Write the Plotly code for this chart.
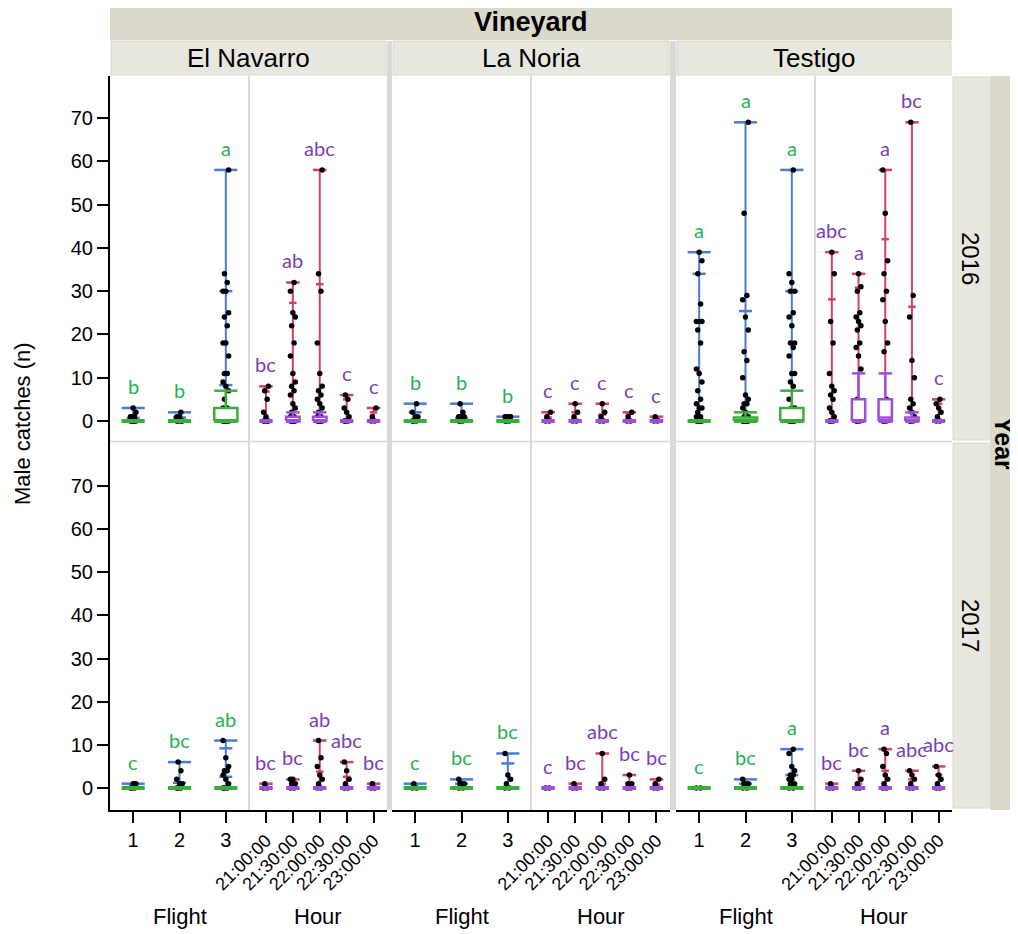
import plotly.graph_objects as go

# ---------------- categories / labels ----------------
vineyards = ["El Navarro", "La Noria", "Testigo"]
years = ["2016", "2017"]
flight_labels = ["1", "2", "3"]
hour_labels = ["21:00:00", "21:30:00", "22:00:00", "22:30:00", "23:00:00"]
y_ticks = [0, 10, 20, 30, 40, 50, 60, 70]

# each panel: points per category, max (whisker cap), extra tick marks,
# box stats [median, q3, upper whisker], significance letters

# ---- El Navarro 2016 ----
nav16_f_pts = [[0, 0, 0, 0, 0, 1, 1, 1, 2, 3], [0, 0, 0, 0, 1, 1, 2],
               [0, 0, 0, 0, 0, 0, 1, 1, 2, 2, 3, 3, 5, 7, 8, 9, 11, 11, 15, 18, 18, 22, 24, 25, 30, 30, 32, 34, 58]]
nav16_f_max = [3, 2, 58]
nav16_f_ticks = [[0.7], [0.8], [30, 8.3]]
nav16_f_box = [[0, 0, 0], [0, 0, 0], [0, 3, 7]]
nav16_f_let = ["b", "b", "a"]

nav16_h_pts = [[0, 0, 0, 0, 1, 2, 5, 7, 8],
               [0, 0, 0, 0, 0, 1, 1, 2, 3, 4, 6, 7, 8, 9, 11, 15, 18, 22, 24, 25, 30, 32],
               [0, 0, 0, 0, 0, 1, 1, 2, 3, 4, 5, 6, 7, 8, 11, 18, 30, 34, 58],
               [0, 0, 0, 1, 2, 3, 5, 6], [0, 0, 1, 3]]
nav16_h_max = [8, 32, 58, 6, 3]
nav16_h_ticks = [[6.8], [27.3], [31.6], [5], [2]]
nav16_h_box = [[0, 0, 0], [0, 1, 2], [0, 1, 2], [0, 0, 0], [0, 0, 0]]
nav16_h_let = ["bc", "ab", "abc", "c", "c"]

# ---- La Noria 2016 ----
nor16_f_pts = [[0, 0, 0, 1, 1, 2, 4], [0, 0, 0, 1, 1, 1, 2, 4], [0, 0, 0, 1, 1, 1, 1]]
nor16_f_max = [4, 4, 1]
nor16_f_ticks = [[2], [0.7], []]
nor16_f_box = [[0, 0, 0], [0, 0, 0], [0, 0, 0]]
nor16_f_let = ["b", "b", "b"]

nor16_h_pts = [[0, 0, 1, 2], [0, 0, 1, 2, 4], [0, 0, 1, 2, 4], [0, 0, 1, 2], [0, 0, 1]]
nor16_h_max = [2, 4, 4, 2, 1]
nor16_h_ticks = [[0.8], [2], [1.5], [1.7], [0.6]]
nor16_h_box = [[0, 0, 0]] * 5
nor16_h_let = ["c", "c", "c", "c", "c"]

# ---- Testigo 2016 ----
tes16_f_pts = [[0, 0, 0, 0, 0, 1, 1, 2, 3, 3, 4, 5, 7, 9, 11, 12, 18, 21, 23, 23, 23, 27, 34, 37, 39],
               [0, 0, 0, 0, 0, 0, 0, 1, 1, 2, 3, 4, 4, 5, 6, 10, 14, 16, 21, 24, 28, 29, 48, 69],
               [0, 0, 0, 0, 0, 1, 1, 2, 3, 3, 5, 8, 9, 11, 11, 15, 17, 18, 18, 22, 24, 25, 30, 30, 32, 34, 58]]
tes16_f_max = [39, 69, 58]
tes16_f_ticks = [[34], [25.4], [30]]
tes16_f_box = [[0, 0, 0], [0, 0.8, 2], [0, 3, 7]]
tes16_f_let = ["a", "a", "a"]

tes16_h_pts = [[0, 0, 0, 1, 2, 3, 5, 6, 7, 8, 11, 18, 23, 34, 39],
               [0, 0, 0, 1, 2, 3, 4, 5, 12, 15, 17, 18, 21, 22, 23, 24, 25, 30, 31, 34],
               [0, 0, 0, 1, 2, 3, 5, 16, 18, 23, 28, 30, 34, 37, 48, 58],
               [0, 0, 0, 1, 2, 3, 4, 5, 10, 14, 24, 29, 69],
               [0, 0, 1, 2, 3, 4, 5]]
tes16_h_max = [39, 34, 58, 69, 5]
tes16_h_ticks = [[28.1], [30.8], [42], [26.4], [4]]
tes16_h_box = [[0, 0, 0], [0, 5, 11], [0.8, 5, 11], [0, 0.8, 2], [0, 0, 0]]
tes16_h_let = ["abc", "a", "a", "bc", "c"]

# ---- El Navarro 2017 ----
nav17_f_pts = [[0, 0, 0, 1, 1], [0, 0, 0, 1, 1, 2, 4, 6], [0, 0, 0, 1, 2, 3, 4, 4, 5, 7, 11]]
nav17_f_max = [1, 6, 11]
nav17_f_ticks = [[], [1.2], [9.2, 2.6]]
nav17_f_box = [[0, 0, 0]] * 3
nav17_f_let = ["c", "bc", "ab"]

nav17_h_pts = [[0, 0, 1], [0, 0, 1, 1, 2, 2], [0, 0, 1, 2, 3, 5, 7, 11], [0, 0, 1, 2, 4, 6], [0, 0, 1]]
nav17_h_max = [1, 2, 11, 6, 1]
nav17_h_ticks = [[], [1], [3.8], [2.6], []]
nav17_h_box = [[0, 0, 0]] * 5
nav17_h_let = ["bc", "bc", "ab", "abc", "bc"]

# ---- La Noria 2017 ----
nor17_f_pts = [[0, 0, 1], [0, 0, 1, 1, 1, 2], [0, 0, 1, 2, 3, 8]]
nor17_f_max = [1, 2, 8]
nor17_f_ticks = [[], [1], [5.7]]
nor17_f_box = [[0, 0, 0]] * 3
nor17_f_let = ["c", "bc", "bc"]

nor17_h_pts = [[0, 0], [0, 0, 1], [0, 0, 1, 2, 8], [0, 0, 1, 1, 3], [0, 0, 1, 2]]
nor17_h_max = [0, 1, 8, 3, 2]
nor17_h_ticks = [[], [], [1], [1], [0.8]]
nor17_h_box = [[0, 0, 0]] * 5
nor17_h_let = ["c", "bc", "abc", "bc", "bc"]

# ---- Testigo 2017 ----
tes17_f_pts = [[0, 0], [0, 0, 1, 1, 1, 2], [0, 0, 1, 1, 2, 2, 3, 3, 4, 5, 8, 9]]
tes17_f_max = [0, 2, 9]
tes17_f_ticks = [[], [1], [3]]
tes17_f_box = [[0, 0, 0]] * 3
tes17_f_let = ["c", "bc", "a"]

tes17_h_pts = [[0, 0, 1], [0, 0, 1, 2, 4], [0, 0, 1, 2, 3, 5, 8, 9], [0, 0, 1, 2, 3, 4], [0, 0, 1, 2, 3, 5]]
tes17_h_max = [1, 4, 9, 4, 5]
tes17_h_ticks = [[], [1], [4], [2], [3]]
tes17_h_box = [[0, 0, 0]] * 5
tes17_h_let = ["bc", "bc", "a", "abc", "abc"]

panels = {
    (0, 0, 0): (nav16_f_pts, nav16_f_max, nav16_f_ticks, nav16_f_box, nav16_f_let),
    (0, 0, 1): (nav16_h_pts, nav16_h_max, nav16_h_ticks, nav16_h_box, nav16_h_let),
    (0, 1, 0): (nor16_f_pts, nor16_f_max, nor16_f_ticks, nor16_f_box, nor16_f_let),
    (0, 1, 1): (nor16_h_pts, nor16_h_max, nor16_h_ticks, nor16_h_box, nor16_h_let),
    (0, 2, 0): (tes16_f_pts, tes16_f_max, tes16_f_ticks, tes16_f_box, tes16_f_let),
    (0, 2, 1): (tes16_h_pts, tes16_h_max, tes16_h_ticks, tes16_h_box, tes16_h_let),
    (1, 0, 0): (nav17_f_pts, nav17_f_max, nav17_f_ticks, nav17_f_box, nav17_f_let),
    (1, 0, 1): (nav17_h_pts, nav17_h_max, nav17_h_ticks, nav17_h_box, nav17_h_let),
    (1, 1, 0): (nor17_f_pts, nor17_f_max, nor17_f_ticks, nor17_f_box, nor17_f_let),
    (1, 1, 1): (nor17_h_pts, nor17_h_max, nor17_h_ticks, nor17_h_box, nor17_h_let),
    (1, 2, 0): (tes17_f_pts, tes17_f_max, tes17_f_ticks, tes17_f_box, tes17_f_let),
    (1, 2, 1): (tes17_h_pts, tes17_h_max, tes17_h_ticks, tes17_h_box, tes17_h_let),
}

# ---------------- layout geometry (page pixels) ----------------
OFF = 8                      # default page margin of the html body
W, H = 1018 - OFF, 934 - OFF
L, R, T, B = 110, 952, 76, 810
PW, PH = R - L, B - T
sec_edges = [(110, 249), (249, 387), (392, 531), (531, 670), (676, 815), (815, 952)]
vin_edges = [(110, 387), (392, 670), (676, 952)]
row_edges = [(76, 441), (441, 810)]
y_ranges = [[-4.62, 79.70], [-5.10, 80.43]]


def px(xp):
    return (xp - L) / PW


def py(yp):
    return (B - yp) / PH


GREEN_BOX = "#3aae3a"
BLUE = "#4a7bdb"
RED = "#d7405e"
PURPLE_BOX = "#9d4fd9"
GREEN_TXT = "#1fb255"
PURPLE_TXT = "#7b3db8"
FONT = "Liberation Sans, Arial, sans-serif"

fig = go.Figure()
layout_axes = {}
annotations = []

BOX_HW = 0.25
TICK_HW = 0.14


def add_segs(segs, xa, ya, color, width):
    xs, ys = [], []
    for (x0, y0, x1, y1) in segs:
        xs += [x0, x1, None]
        ys += [y0, y1, None]
    if xs:
        fig.add_trace(go.Scatter(x=xs, y=ys, mode="lines", xaxis=xa, yaxis=ya,
                                 line=dict(color=color, width=width), hoverinfo="skip",
                                 showlegend=False))


for (r, v, s), (pts, mx, tks, box, lets) in panels.items():
    k = r * 6 + v * 2 + s + 1
    xa = "x" if k == 1 else f"x{k}"
    ya = "y" if k == 1 else f"y{k}"
    wcol = BLUE if s == 0 else RED
    bcol = GREEN_BOX if s == 0 else PURPLE_BOX
    tcol = GREEN_TXT if s == 0 else PURPLE_TXT
    cats = flight_labels if s == 0 else hour_labels
    n = len(cats)
    jit = 0.03 if s == 0 else 0.045

    # whiskers (min-max line with caps and tick marks)
    vsegs, csegs = [], []
    for i in range(n):
        c = i + 1
        if mx[i] > 0:
            vsegs.append((c, 0, c, mx[i]))
            csegs.append((c - BOX_HW, mx[i], c + BOX_HW, mx[i]))
            for t in tks[i]:
                csegs.append((c - TICK_HW, t, c + TICK_HW, t))
    add_segs(vsegs, xa, ya, wcol, 2)
    add_segs(csegs, xa, ya, wcol, 2.5)

    # points with deterministic small jitter
    px_list, py_list = [], []
    for i in range(n):
        c = i + 1
        for j, val in enumerate(pts[i]):
            off = ((j * 3) % 5 - 2) * jit
            px_list.append(c + off)
            py_list.append(val)
    fig.add_trace(go.Scatter(x=px_list, y=py_list, mode="markers", xaxis=xa, yaxis=ya,
                             marker=dict(color="black", size=5.5), hoverinfo="skip",
                             showlegend=False))

    # boxes
    flat = []
    for i in range(n):
        c = i + 1
        med, q3, up = box[i]
        if q3 > 0:
            fig.add_trace(go.Scatter(
                x=[c - BOX_HW, c + BOX_HW, c + BOX_HW, c - BOX_HW, c - BOX_HW],
                y=[0, 0, q3, q3, 0], mode="lines", fill="toself", fillcolor="white",
                xaxis=xa, yaxis=ya, line=dict(color=bcol, width=2.5),
                hoverinfo="skip", showlegend=False))
            segs = [(c, q3, c, up), (c - BOX_HW, up, c + BOX_HW, up)]
            if med > 0:
                segs.append((c - BOX_HW, med, c + BOX_HW, med))
            add_segs(segs, xa, ya, bcol, 2.5)
        flat.append((c - BOX_HW, 0, c + BOX_HW, 0))
    add_segs(flat, xa, ya, bcol, 4)

    # letters
    for i in range(n):
        annotations.append(dict(x=i + 1, y=mx[i], xref=xa, yref=ya, text=lets[i],
                                showarrow=False, yanchor="bottom", yshift=8,
                                font=dict(family="Lato, Open Sans, sans-serif", size=20, color=tcol)))

    # axes
    x0p, x1p = sec_edges[v * 2 + s]
    y0p, y1p = row_edges[r]
    xkey = "xaxis" if k == 1 else f"xaxis{k}"
    ykey = "yaxis" if k == 1 else f"yaxis{k}"
    xax = dict(domain=[px(x0p), px(x1p)], anchor=ya,
               range=[0.5, 3.5] if s == 0 else [0.37, 5.5],
               tickmode="array", tickvals=list(range(1, n + 1)), ticktext=cats,
               showgrid=False, zeroline=False, fixedrange=True)
    if r == 1:
        xax.update(showline=True, linecolor="black", linewidth=2, ticks="outside",
                   ticklen=11, tickwidth=2, tickcolor="black", showticklabels=True,
                   tickfont=dict(family=FONT, size=20 if s == 0 else 18, color="black"),
                   tickangle=0 if s == 0 else -45)
    else:
        xax.update(showline=False, ticks="", showticklabels=False)
    yax = dict(domain=[py(y1p), py(y0p)], anchor=xa, range=y_ranges[r],
               showgrid=False, zeroline=False, fixedrange=True)
    if v == 0 and s == 0:
        yax.update(showline=True, linecolor="black", linewidth=2, ticks="outside",
                   ticklen=11, tickwidth=2, tickcolor="black",
                   tickmode="array", tickvals=y_ticks, ticktext=[str(t) for t in y_ticks],
                   tickfont=dict(family=FONT, size=20, color="black"))
    else:
        yax.update(showline=False, ticks="", showticklabels=False)
    layout_axes[xkey] = xax
    layout_axes[ykey] = yax

# ---------------- decorations ----------------
shapes = []
HDR_DARK = "#dbd9ca"
HDR_LIGHT = "#e8e7df"
GAP = "#d9d9d9"


def rect(x0, y0, x1, y1, fill, line=None):
    d = dict(type="rect", xref="paper", yref="paper", x0=px(x0), x1=px(x1),
             y0=py(y1), y1=py(y0), fillcolor=fill, layer="below",
             line=dict(width=0) if line is None else dict(color=line, width=1))
    shapes.append(d)


rect(110, 5, 952, 40, HDR_DARK)
for (a, b) in vin_edges:
    rect(a + 1, 41, b - 1, 75, HDR_LIGHT, "#d8d6c8")
rect(387, 41, 392, 810, GAP)
rect(670, 41, 676, 810, GAP)
rect(990, 76, 1018, 810, HDR_DARK)
rect(953, 77, 989, 440, HDR_LIGHT, "#d8d6c8")
rect(953, 443, 989, 808, HDR_LIGHT, "#d8d6c8")
for xd in [249, 531, 815]:
    shapes.append(dict(type="line", xref="paper", yref="paper", x0=px(xd), x1=px(xd),
                       y0=py(810), y1=py(76), line=dict(color="#d9d9d9", width=2), layer="below"))
shapes.append(dict(type="line", xref="paper", yref="paper", x0=px(110), x1=px(952),
                   y0=py(441.5), y1=py(441.5), line=dict(color="#d9d9d9", width=1.5), layer="below"))


def ann(text, xp, yp, size, bold=False, angle=0):
    annotations.append(dict(text=f"<b>{text}</b>" if bold else text, x=px(xp), y=py(yp),
                            xref="paper", yref="paper", showarrow=False, textangle=angle,
                            xanchor="center", yanchor="middle",
                            font=dict(family=FONT, size=size, color="black")))


ann("Vineyard", 531, 22, 27, bold=True)
for (a, b), name in zip(vin_edges, vineyards):
    ann(name, (a + b) / 2, 58, 26)
ann(years[0], 971, 258, 24, angle=90)
ann(years[1], 971, 625, 24, angle=90)
ann("Year", 1004, 443, 25, bold=True, angle=90)
ann("Male catches (n)", 22, 424, 22, angle=-90)
for v in range(3):
    f0, f1 = sec_edges[v * 2]
    h0, h1 = sec_edges[v * 2 + 1]
    ann("Flight", (f0 + f1) / 2, 916, 22)
    ann("Hour", (h0 + h1) / 2, 916, 22)

fig.update_layout(width=W, height=H, autosize=False,
                  margin=dict(l=L - OFF, r=W - (R - OFF), t=T - OFF, b=H - (B - OFF), pad=0),
                  paper_bgcolor="white", plot_bgcolor="white",
                  showlegend=False, shapes=shapes, annotations=annotations,
                  hovermode=False, **layout_axes)

fig.write_html("out.html")
